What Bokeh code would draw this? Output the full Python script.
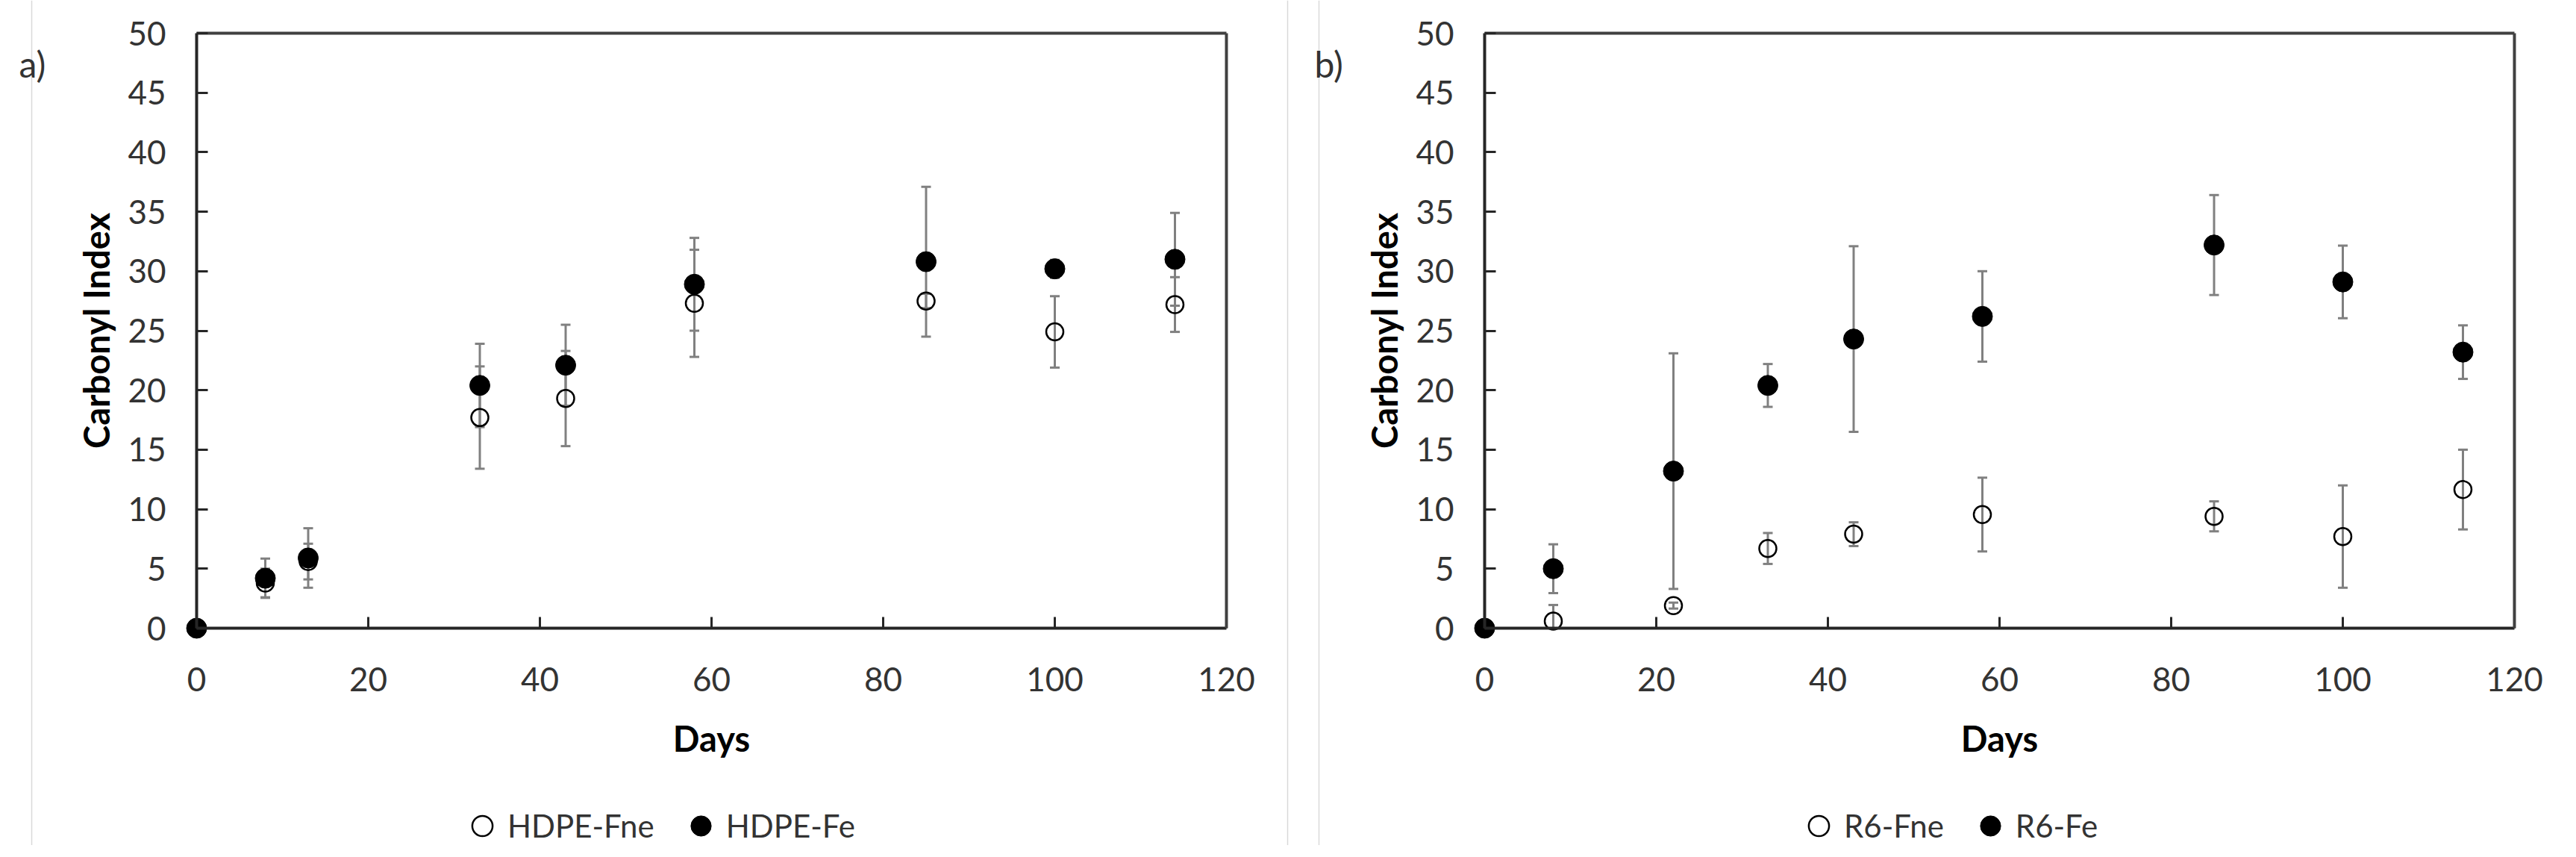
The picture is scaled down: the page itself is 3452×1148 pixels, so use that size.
from bokeh.plotting import figure
from bokeh.models import (Range1d, FixedTicker, Legend, LegendItem, Label,
                          ColumnDataSource, LinearAxis, Span)
from bokeh.layouts import row
from bokeh.embed import file_html
from bokeh.resources import INLINE

# ---------------- data ----------------
days_a = [0, 8, 13, 33, 43, 58, 85, 100, 114]
hdpe_fne = [0, 3.8, 5.6, 17.7, 19.3, 27.3, 27.5, 24.9, 27.2]
hdpe_fne_err = [0, 1.2, 1.5, 4.3, 4.0, 4.5, 0.6, 3.0, 2.3]
hdpe_fe = [0, 4.2, 5.9, 20.4, 22.1, 28.9, 30.8, 30.2, 31.0]
hdpe_fe_err = [0, 1.65, 2.5, 3.5, 3.4, 3.9, 6.3, 0.75, 3.9]

days_b = [0, 8, 22, 33, 43, 58, 85, 100, 114]
r6_fne = [0, 0.6, 1.9, 6.7, 7.9, 9.55, 9.4, 7.7, 11.65]
r6_fne_err = [0, 1.35, 0.25, 1.3, 1.0, 3.1, 1.26, 4.3, 3.35]
r6_fe = [0, 5.0, 13.2, 20.4, 24.3, 26.2, 32.2, 29.1, 23.2]
r6_fe_err = [0, 2.05, 9.9, 1.8, 7.8, 3.8, 4.2, 3.05, 2.25]

x_ticks = [0, 20, 40, 60, 80, 100, 120]
y_ticks = [0, 5, 10, 15, 20, 25, 30, 35, 40, 45, 50]
X_MIN, X_MAX = 0, 120
Y_MIN, Y_MAX = 0, 50
x_title = "Days"
y_title = "Carbonyl Index"

# ---------------- layout constants ----------------
PLOT_W, PLOT_H = 1380, 797          # axis box in pixels
PAD_T, PAD_B = 44, 291              # frame room above y=50 / below y=0
FONT = "Lato"
TICK_COLOR = "#333333"
ERR_COLOR = "#808080"
AXIS_COLOR = "#262626"


def style_axis(ax):
    ax.axis_line_color = AXIS_COLOR
    ax.axis_line_width = 4
    ax.major_tick_line_color = AXIS_COLOR
    ax.major_tick_line_width = 3
    ax.major_tick_in = 15
    ax.major_tick_out = 0
    ax.minor_tick_line_color = None
    ax.major_label_text_font = FONT
    ax.major_label_text_font_size = "44px"
    ax.major_label_text_color = TICK_COLOR
    ax.axis_label_text_font = FONT
    ax.axis_label_text_font_style = "bold"
    ax.axis_label_text_font_size = "47px"
    ax.axis_label_text_color = "black"


def border_axis(loc, bounds):
    return LinearAxis(fixed_location=loc, bounds=bounds, ticker=FixedTicker(ticks=[]),
                      axis_line_color="#404040", axis_line_width=4,
                      major_tick_line_color=None, minor_tick_line_color=None,
                      major_label_text_font_size="0px")


def make_panel(days, fne, fne_err, fe, fe_err, names, tag, pad_l, pad_r,
               legend_x, tag_x, area_lines):
    px_day = PLOT_W / (X_MAX - X_MIN)
    px_unit = PLOT_H / (Y_MAX - Y_MIN)
    p = figure(frame_width=pad_l + PLOT_W + pad_r, frame_height=PAD_T + PLOT_H + PAD_B,
               x_range=Range1d(X_MIN - pad_l / px_day, X_MAX + pad_r / px_day),
               y_range=Range1d(Y_MIN - PAD_B / px_unit, Y_MAX + PAD_T / px_unit),
               output_backend="svg", toolbar_location=None,
               min_border_left=0, min_border_right=0,
               min_border_top=0, min_border_bottom=0)
    p.xgrid.visible = False
    p.ygrid.visible = False
    p.outline_line_color = None
    p.background_fill_color = "white"
    p.border_fill_color = "white"

    # faint border of the chart area
    for loc in area_lines:
        p.add_layout(Span(location=loc, location_units="canvas", dimension="height",
                          line_color="#d9d9d9", line_width=1.5, level="underlay"))

    xa, ya = p.xaxis[0], p.yaxis[0]
    xa.ticker = FixedTicker(ticks=x_ticks)
    ya.ticker = FixedTicker(ticks=y_ticks)
    xa.axis_label = x_title
    ya.axis_label = y_title
    xa.fixed_location = Y_MIN
    ya.fixed_location = X_MIN
    xa.bounds = (X_MIN, X_MAX)
    ya.bounds = (Y_MIN, Y_MAX)
    style_axis(xa)
    style_axis(ya)
    xa.major_label_standoff = 52
    xa.axis_label_standoff = 32
    ya.major_label_standoff = 41
    ya.axis_label_standoff = 11

    # top and right border of the plot box
    p.add_layout(border_axis(Y_MAX, (X_MIN, X_MAX)), "above")
    p.add_layout(border_axis(X_MAX, (Y_MIN, Y_MAX)), "right")

    src = ColumnDataSource(dict(
        x=days,
        fne=fne,
        fne_lo=[max(v - e, Y_MIN) for v, e in zip(fne, fne_err)],
        fne_hi=[v + e for v, e in zip(fne, fne_err)],
        fe=fe,
        fe_lo=[max(v - e, Y_MIN) for v, e in zip(fe, fe_err)],
        fe_hi=[v + e for v, e in zip(fe, fe_err)],
    ))

    for s in ("fne", "fe"):
        p.segment(x0="x", y0=s + "_lo", x1="x", y1=s + "_hi", source=src,
                  line_color=ERR_COLOR, line_width=3)
        for end in ("_lo", "_hi"):
            p.scatter(x="x", y=s + end, source=src, marker="dash", size=13,
                      line_color=ERR_COLOR, line_width=3)

    r_open = p.scatter(x="x", y="fne", source=src, marker="circle", size=23,
                       fill_alpha=0, line_color="black", line_width=2.5)
    r_fill = p.scatter(x="x", y="fe", source=src, marker="circle", size=27,
                       fill_color="black", line_color="black", line_width=1)

    legend = Legend(items=[LegendItem(label=names[0], renderers=[r_open]),
                           LegendItem(label=names[1], renderers=[r_fill])],
                    orientation="horizontal", location=(legend_x, -8),
                    glyph_width=68, glyph_height=68, label_standoff=-5, spacing=28,
                    padding=0, margin=0, border_line_color=None, background_fill_alpha=0,
                    label_text_font=FONT, label_text_font_size="42px",
                    label_text_color=TICK_COLOR, label_text_baseline="middle")
    p.add_layout(legend, "center")

    p.add_layout(Label(x=tag_x, y=85, x_units="canvas", y_units="canvas", text=tag,
                       text_font=FONT, text_font_size="48px", text_color=TICK_COLOR,
                       text_baseline="alphabetic"))
    return p


pa = make_panel(days_a, hdpe_fne, hdpe_fne_err, hdpe_fe, hdpe_fe_err,
                ["HDPE-Fne", "HDPE-Fe"], "a)", 263, 103, 612, 25, [42, 1725])
pb = make_panel(days_b, r6_fne, r6_fne_err, r6_fe, r6_fe_err,
                ["R6-Fne", "R6-Fe"], "b)", 243, 67, 657, 15, [21])

layout = row(pa, pb, spacing=0)
open("out.html", "w").write(file_html(layout, INLINE))
